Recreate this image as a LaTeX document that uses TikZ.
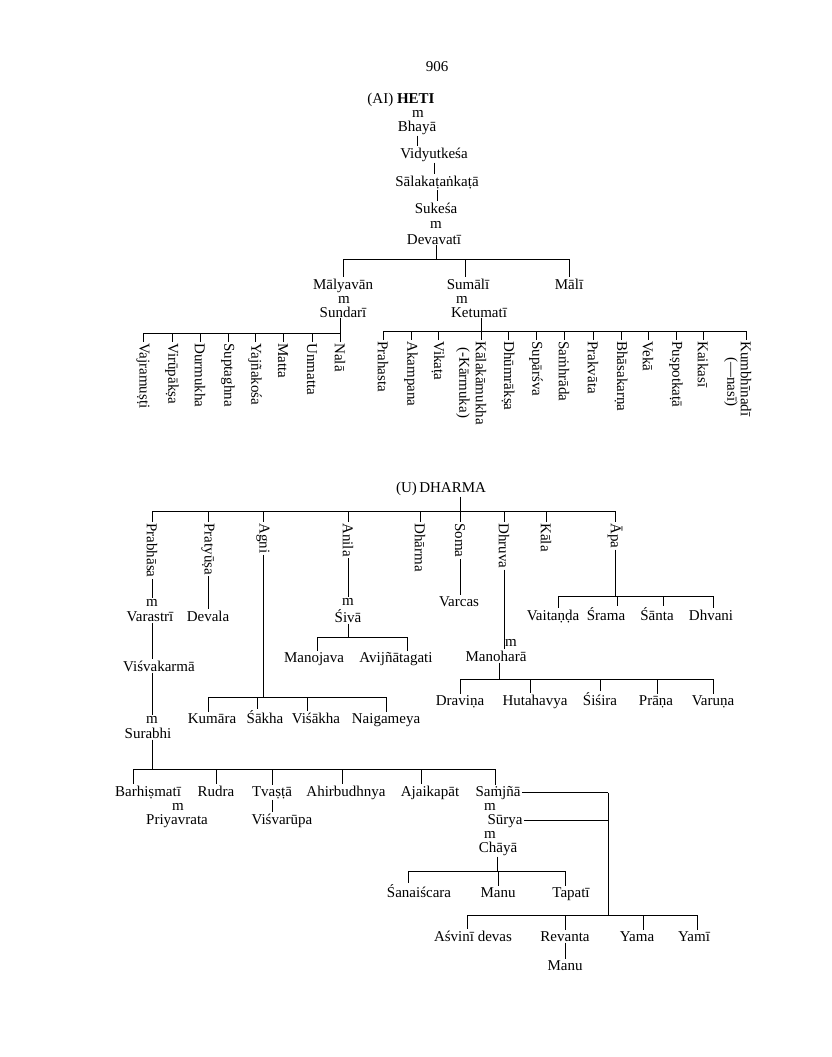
\documentclass[tikz,border=0pt]{standalone}
\usepackage{fontspec}
\setmainfont{Liberation Serif}
\newcommand\dropln[3]{\draw ([xshift=#3]#1.north |- #2) -- ([xshift=#3]#1.north);}
\newcommand\rdropln[2]{\draw (#1.west |- #2) -- (#1.west);}
\begin{document}
\begin{tikzpicture}[x=1pt,y=-1pt,
  every node/.style={font=\fontsize{15}{17}\selectfont, inner sep=1pt, anchor=base},
  rot/.style={rotate=-90, anchor=west},
  every path/.style={line width=0.7pt}]
\useasboundingbox (0,0) rectangle (832,1057);

% ---------------- HETI ----------------
\node (pg) at (437,71) {906};
\node (heti) at (401,103) {(AI)\ \textbf{HETI}};
\node (m1) at (418,117) {m};
\node (bhaya) at (417,131) {Bhayā};
\node (vidyut) at (434,158) {Vidyutkeśa};
\node (salaka) at (437,186) {Sālakaṭaṅkaṭā};
\node (sukesa) at (436,213) {Sukeśa};
\node (m2) at (436,228) {m};
\node (devavati) at (434,244) {Devavatī};
\draw (bhaya.south) -- (bhaya.south |- vidyut.north);
\draw (vidyut.south) -- (vidyut.south |- salaka.north);
\draw (salaka.south) -- (salaka.south |- sukesa.north);
\coordinate (b1) at (436,259);
\draw (devavati.south -| b1) -- (b1);

\node (malyavan) at (343,289) {Mālyavān};
\node (m3) at (344,303) {m};
\node (sundari) at (343,317) {Sundarī};
\node (sumali) at (468,289) {Sumālī};
\node (m3b) at (462,303) {m};
\node (ketumati) at (479,317) {Ketumatī};
\node (mali) at (569,289) {Mālī};
\draw (malyavan.north |- b1) -- (mali.north |- b1);
\dropln{malyavan}{b1}{0pt}
\dropln{sumali}{b1}{-3pt}
\dropln{mali}{b1}{0pt}

% left rotated row
\coordinate (b2) at (340,333);
\draw (sundari.south -| b2) -- (b2);
\node[rot] (vajra) at (143,342) {Vajramuṣṭi};
\node[rot] (virupa) at (172,342) {Virūpākṣa};
\node[rot] (durmukha) at (200,342) {Durmukha};
\node[rot] (supta) at (228,342) {Suptaghna};
\node[rot] (yajna) at (255,342) {Yajñakośa};
\node[rot] (matta) at (283,342) {Matta};
\node[rot] (unmatta) at (312,342) {Unmatta};
\node[rot] (nala) at (340,342) {Nalā};
\draw (vajra.west |- b2) -- (nala.west |- b2);
\foreach \n in {vajra,virupa,durmukha,supta,yajna,matta,unmatta,nala}{\rdropln{\n}{b2}}

% right rotated row
\coordinate (b3) at (481,331);
\draw (ketumati.south -| b3) -- (b3);
\node[rot] (prahasta) at (383,340) {Prahasta};
\node[rot] (akampana) at (411,340) {Akampana};
\node[rot] (vikata) at (438,340) {Vikaṭa};
\node[rot] (kalaka) at (481,340) {Kālakāmukha};
\node[rot] (karmuka) at (463,346) {(-Kārmuka)};
\node[rot] (dhumra) at (508,340) {Dhūmrākṣa};
\node[rot] (suparsva) at (536,340) {Supārśva};
\node[rot] (samhrada) at (564,340) {Saṁhrāda};
\node[rot] (prakvata) at (593,340) {Prakvāta};
\node[rot] (bhasa) at (621,340) {Bhāsakarṇa};
\node[rot] (veka) at (648,340) {Vekā};
\node[rot] (puspo) at (676,340) {Puṣpotkaṭā};
\node[rot] (kaikasi) at (703,340) {Kaikasī};
\node[rot] (kumbhi) at (746,340) {Kumbhīnadī};
\node[rot] (nasi) at (731,356) {(—nasī)};
\draw (prahasta.west |- b3) -- (kumbhi.west |- b3);
\foreach \n in {prahasta,akampana,vikata,kalaka,dhumra,suparsva,samhrada,prakvata,bhasa,veka,puspo,kaikasi,kumbhi}{\rdropln{\n}{b3}}

% ---------------- DHARMA ----------------
\node (dharma) at (441,492) {(U)\,DHARMA};
\coordinate (b4) at (460,511);
\draw (dharma.south -| b4) -- (b4);
\node[rot] (prabhasa) at (152,522) {Prabhāsa};
\node[rot] (pratyusa) at (208,522) {Pratyūṣa};
\node[rot] (agni) at (263,522) {Agni};
\node[rot] (anila) at (348,522) {Anila};
\node[rot] (dharmav) at (420,522) {Dhārma};
\node[rot] (soma) at (460,522) {Soma};
\node[rot] (dhruva) at (504,522) {Dhruva};
\node[rot] (kala) at (546,522) {Kāla};
\node[rot] (apa) at (615,522) {Āpa};
\draw (prabhasa.west |- b4) -- (apa.west |- b4);
\foreach \n in {prabhasa,pratyusa,agni,anila,dharmav,soma,dhruva,kala,apa}{\rdropln{\n}{b4}}

% Prabhasa line
\node (m4) at (152,606.5) {m};
\node (varastri) at (150,621) {Varastrī};
\node (visva) at (159,671) {Viśvakarmā};
\node (m5) at (152,723.5) {m};
\node (surabhi) at (148,738) {Surabhi};
\draw (prabhasa.east) -- (prabhasa.east |- m4.north);
\draw (varastri.south -| prabhasa.east) -- (visva.north -| prabhasa.east);
\draw (visva.south -| m5) -- (m5.north);
\coordinate (b5) at (152,769);
\draw (surabhi.south -| b5) -- (b5);

% Pratyusa
\node (devala) at (208,621) {Devala};
\draw (pratyusa.east) -- (pratyusa.east |- devala.north);

% Agni
\coordinate (b6) at (263,697);
\draw (agni.east) -- (b6);
\node (kumara) at (212,723) {Kumāra};
\node (sakha) at (265,723) {Śākha};
\node (visakha) at (316,723) {Viśākha};
\node (naigameya) at (386,723) {Naigameya};
\draw ([xshift=-4pt]kumara.north |- b6) -- (naigameya.north |- b6);
\dropln{kumara}{b6}{-4pt}
\dropln{sakha}{b6}{-8pt}
\dropln{visakha}{b6}{-9pt}
\dropln{naigameya}{b6}{0pt}

% Anila
\node (m6) at (348,605.5) {m};
\node (siva) at (348,622) {Śivā};
\draw (anila.east) -- (anila.east |- m6.north);
\coordinate (b7) at (348,637);
\draw (siva.south -| b7) -- (b7);
\node (manojava) at (314,662) {Manojava};
\node (avij) at (396,662) {Avijñātagati};
\draw ([xshift=3pt]manojava.north |- b7) -- ([xshift=11pt]avij.north |- b7);
\dropln{manojava}{b7}{3pt}
\dropln{avij}{b7}{11pt}

% Soma
\node (varcas) at (459,606) {Varcas};
\draw (soma.east) -- (soma.east |- varcas.north);

% Dhruva
\node (m7) at (511,646.5) {m};
\node (manohara) at (496,661) {Manoharā};
\draw (dhruva.east) -- (dhruva.east |- manohara.north);
\coordinate (b8) at (499,679);
\draw (manohara.south -| b8) -- (b8);
\node (dravina) at (460,705) {Draviṇa};
\node (hutahavya) at (535,705) {Hutahavya};
\node (sisira) at (600,705) {Śiśira};
\node (prana) at (656,705) {Prāṇa};
\node (varuna) at (713,705) {Varuṇa};
\draw (dravina.north |- b8) -- (varuna.north |- b8);
\dropln{dravina}{b8}{0pt}
\dropln{hutahavya}{b8}{-5pt}
\dropln{sisira}{b8}{0pt}
\dropln{prana}{b8}{1pt}
\dropln{varuna}{b8}{0pt}

% Apa
\coordinate (b9) at (615,596);
\draw (apa.east) -- (b9);
\node (vaitanda) at (553,620) {Vaitaṇḍa};
\node (srama) at (606,620) {Śrama};
\node (santa) at (657,620) {Śānta};
\node (dhvani) at (711,620) {Dhvani};
\draw ([xshift=5pt]vaitanda.north |- b9) -- ([xshift=2pt]dhvani.north |- b9);
\dropln{vaitanda}{b9}{5pt}
\dropln{srama}{b9}{11pt}
\dropln{santa}{b9}{6pt}
\dropln{dhvani}{b9}{2pt}

% ---------------- Surabhi children ----------------
\node (barhis) at (148,796) {Barhiṣmatī};
\node (rudra) at (216,796) {Rudra};
\node (tvasta) at (272,796) {Tvaṣṭā};
\node (ahir) at (346,796) {Ahirbudhnya};
\node (ajai) at (430,796) {Ajaikapāt};
\node (samjna) at (498,796) {Saṁjñā};
\draw ([xshift=-15pt]barhis.north |- b5) -- ([xshift=-3pt]samjna.north |- b5);
\dropln{barhis}{b5}{-15pt}
\dropln{rudra}{b5}{0pt}
\dropln{tvasta}{b5}{0pt}
\dropln{ahir}{b5}{-4pt}
\dropln{ajai}{b5}{-9pt}
\dropln{samjna}{b5}{-3pt}

\node (m8) at (178,810) {m};
\node (priyavrata) at (177,824) {Priyavrata};
\node (visvarupa) at (282,824) {Viśvarūpa};
\draw (tvasta.south) -- (tvasta.south |- visvarupa.north);

\node (m9) at (490,810) {m};
\node (surya) at (505,824) {Sūrya};
\node (m10) at (490,838) {m};
\node (chaya) at (498,852) {Chāyā};
\coordinate (vt) at (608,792);
\coordinate (vb) at (608,915);
\draw (samjna.east) -- (samjna.east -| vt);
\draw (surya.east) -- (surya.east -| vt);
\draw (samjna.east -| vt) -- (vb);

\coordinate (b10) at (497,871);
\draw (chaya.south -| b10) -- (b10);
\node (sanais) at (419,897) {Śanaiścara};
\node (manu1) at (498,897) {Manu};
\node (tapati) at (571,897) {Tapatī};
\draw ([xshift=-11pt]sanais.north |- b10) -- ([xshift=-6pt]tapati.north |- b10);
\dropln{sanais}{b10}{-11pt}
\dropln{manu1}{b10}{0pt}
\dropln{tapati}{b10}{-6pt}

\node (asvini) at (473,941) {Aśvinī devas};
\node (revanta) at (565,941) {Revanta};
\node (yama) at (637,941) {Yama};
\node (yami) at (694,941) {Yamī};
\draw ([xshift=-6pt]asvini.north |- vb) -- ([xshift=3pt]yami.north |- vb);
\dropln{asvini}{vb}{-6pt}
\dropln{revanta}{vb}{0pt}
\dropln{yama}{vb}{6pt}
\dropln{yami}{vb}{3pt}
\node (manu2) at (565,970) {Manu};
\draw (revanta.south) -- (manu2.north);
\end{tikzpicture}
\end{document}
